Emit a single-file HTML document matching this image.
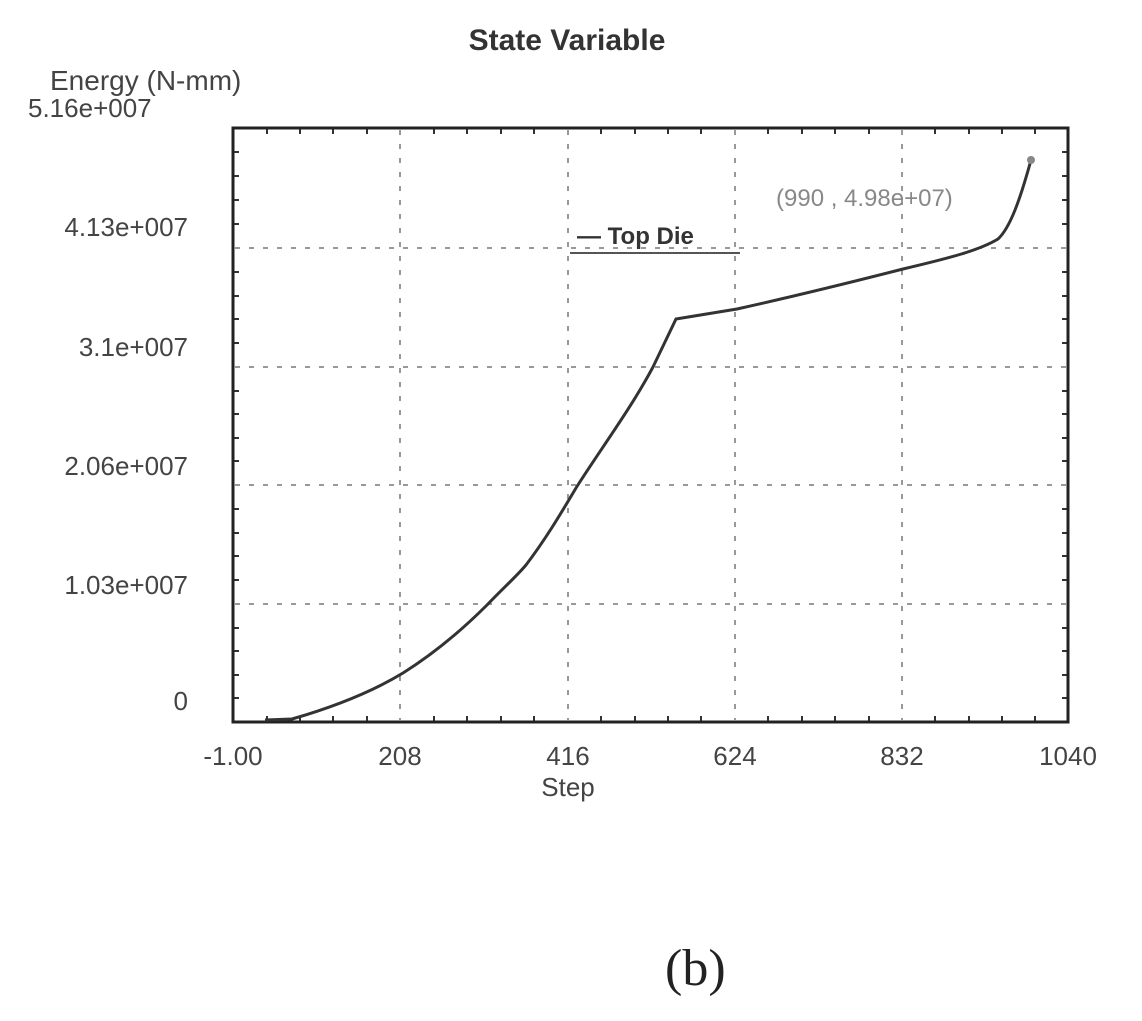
<!DOCTYPE html>
<html><head><style>body{margin:0;background:#fff;}svg{display:block}</style></head>
<body>
<svg width="1142" height="1021" xmlns="http://www.w3.org/2000/svg" font-family="Liberation Sans, sans-serif">
<rect width="1142" height="1021" fill="#fff"/>
<text x="567" y="50" font-size="30" font-weight="bold" text-anchor="middle" fill="#333">State Variable</text>
<text x="50" y="90" font-size="28" fill="#444">Energy (N-mm)</text>
<text x="28" y="117" font-size="26" fill="#444">5.16e+007</text>
<g stroke="#999" stroke-width="2" stroke-dasharray="5,9">
<line x1="400" y1="130" x2="400" y2="720"/><line x1="568" y1="130" x2="568" y2="720"/>
<line x1="735" y1="130" x2="735" y2="720"/><line x1="902" y1="130" x2="902" y2="720"/>
<line x1="235" y1="248" x2="1066" y2="248"/><line x1="235" y1="367" x2="1066" y2="367"/>
<line x1="235" y1="485" x2="1066" y2="485"/><line x1="235" y1="604" x2="1066" y2="604"/>
</g>
<g stroke="#333" stroke-width="2">
<path d="M233,152h6M233,176h6M233,200h6M233,224h6M233,272h6M233,296h6M233,319h6M233,343h6M233,391h6M233,414h6M233,438h6M233,461h6M233,509h6M233,533h6M233,556h6M233,580h6M233,628h6M233,651h6M233,675h6M233,698h6"/>
<path d="M1068,152h-6M1068,176h-6M1068,200h-6M1068,224h-6M1068,272h-6M1068,296h-6M1068,319h-6M1068,343h-6M1068,391h-6M1068,414h-6M1068,438h-6M1068,461h-6M1068,509h-6M1068,533h-6M1068,556h-6M1068,580h-6M1068,628h-6M1068,651h-6M1068,675h-6M1068,698h-6"/>
<path d="M267,722v-6M300,722v-6M333,722v-6M367,722v-6M434,722v-6M467,722v-6M501,722v-6M534,722v-6M601,722v-6M635,722v-6M668,722v-6M701,722v-6M768,722v-6M802,722v-6M835,722v-6M869,722v-6M935,722v-6M969,722v-6M1002,722v-6M1035,722v-6"/>
<path d="M267,128v6M300,128v6M333,128v6M367,128v6M434,128v6M467,128v6M501,128v6M534,128v6M601,128v6M635,128v6M668,128v6M701,128v6M768,128v6M802,128v6M835,128v6M869,128v6M935,128v6M969,128v6M1002,128v6M1035,128v6"/>
</g>
<rect x="233" y="128" width="835" height="594" fill="none" stroke="#222" stroke-width="3"/>
<g font-size="26" fill="#444" text-anchor="end">
<text x="188" y="236">4.13e+007</text><text x="188" y="356">3.1e+007</text>
<text x="188" y="475">2.06e+007</text><text x="188" y="594">1.03e+007</text>
<text x="188" y="710">0</text></g>
<g font-size="26" fill="#444" text-anchor="middle">
<text x="233" y="765">-1.00</text><text x="400" y="765">208</text><text x="568" y="765">416</text>
<text x="735" y="765">624</text><text x="902" y="765">832</text><text x="1068" y="765">1040</text>
<text x="568" y="796">Step</text></g>
<text x="577" y="244" font-size="24" font-weight="bold" fill="#333">— Top Die</text>
<line x1="570" y1="253" x2="740" y2="253" stroke="#555" stroke-width="2"/>
<text x="776" y="206" font-size="24" fill="#888">(990 , 4.98e+07)</text>
<path fill="none" stroke="#333" stroke-width="3" d="M265,720 L292,719 C330,708 370,693 403,673 C430,656 460,632 487,605 C505,586 515,578 526,565 C545,540 560,515 576,488 C600,450 630,410 653,367 L676,319 L737,309 C800,295 860,280 903,269 C950,258 980,250 998,239 C1010,228 1020,200 1031,160"/>
<circle cx="1031" cy="160" r="4" fill="#888"/>
<text x="665" y="985" font-size="52" font-family="Liberation Serif, serif" fill="#222">(b)</text>
</svg>
</body></html>
